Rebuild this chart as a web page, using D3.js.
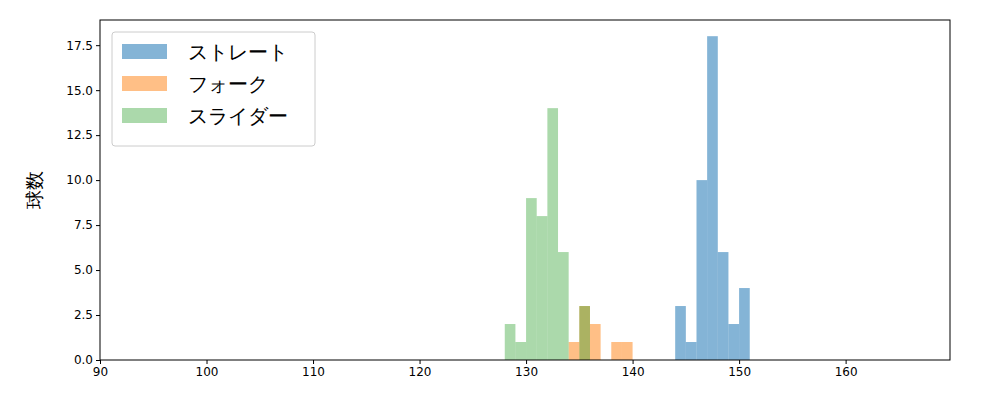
<!DOCTYPE html>
<html><head><meta charset="utf-8">
<script src="https://cdn.jsdelivr.net/npm/d3@7"></script>
<style>body{margin:0;background:#fff}text{font-family:"DejaVu Sans",sans-serif}</style>
</head><body><svg id="c" width="1000" height="400"></svg>
<script>
// bin start values (width 1) and counts per pitch type
const straightBins = [144, 145, 146, 147, 148, 149, 150];
const straightCounts = [3, 1, 10, 18, 6, 2, 4];
const forkBins = [134, 135, 136, 138, 139];
const forkCounts = [1, 3, 2, 1, 1];
const sliderBins = [128, 129, 130, 131, 132, 133, 135];
const sliderCounts = [2, 1, 9, 8, 14, 6, 3];
const names = ['ストレート', 'フォーク', 'スライダー'];
const colors = ['#1f77b4', '#ff7f0e', '#2ca02c'];
const opac = [0.55, 0.5, 0.4];
const xTicks = [90, 100, 110, 120, 130, 140, 150, 160];
const yTicks = [0, 2.5, 5, 7.5, 10, 12.5, 15, 17.5];

const svg = d3.select('#c');
const x = d3.scaleLinear().domain([90, 169.8]).range([100, 950]);
const y = d3.scaleLinear().domain([0, 18.9]).range([360, 20]);

const series = [[straightBins, straightCounts], [forkBins, forkCounts], [sliderBins, sliderCounts]];
series.forEach(([bins, counts], i) => {
  svg.append('g').selectAll('rect').data(bins.map((b, j) => [b, counts[j]])).enter().append('rect')
    .attr('x', d => x(d[0])).attr('width', d => x(d[0] + 1) - x(d[0]))
    .attr('y', d => y(d[1])).attr('height', d => y(0) - y(d[1]))
    .attr('fill', colors[i]).attr('fill-opacity', opac[i]);
});

svg.append('g').attr('transform', 'translate(0,360)')
  .call(d3.axisBottom(x).tickValues(xTicks).tickSizeOuter(0).tickSize(4))
  .call(g => g.select('.domain').remove())
  .call(g => g.selectAll('text').attr('font-size', 12).attr('fill', '#000'));
svg.append('g').attr('transform', 'translate(100,0)')
  .call(d3.axisLeft(y).tickValues(yTicks).tickFormat(d3.format('.1f')).tickSizeOuter(0).tickSize(4))
  .call(g => g.select('.domain').remove())
  .call(g => g.selectAll('text').attr('font-size', 12).attr('fill', '#000'));
svg.append('rect').attr('x', 100).attr('y', 20).attr('width', 850).attr('height', 340)
  .attr('fill', 'none').attr('stroke', '#000');
svg.append('text').attr('transform', 'translate(41,190) rotate(-90)').attr('text-anchor', 'middle')
  .attr('font-size', 19).attr('font-family', '"Noto Sans CJK JP"').text('球数');

const lg = svg.append('g').attr('transform', 'translate(112,32)');
lg.append('rect').attr('width', 203).attr('height', 114).attr('rx', 3)
  .attr('fill', '#fff').attr('stroke', '#ccc');
names.forEach((n, i) => {
  lg.append('rect').attr('x', 10).attr('y', 12 + i * 32).attr('width', 45).attr('height', 15)
    .attr('fill', colors[i]).attr('fill-opacity', opac[i]);
  lg.append('text').attr('x', 76).attr('y', 27 + i * 32).attr('font-size', 20)
    .attr('font-family', '"Noto Sans CJK JP"').text(n);
});
</script></body></html>
